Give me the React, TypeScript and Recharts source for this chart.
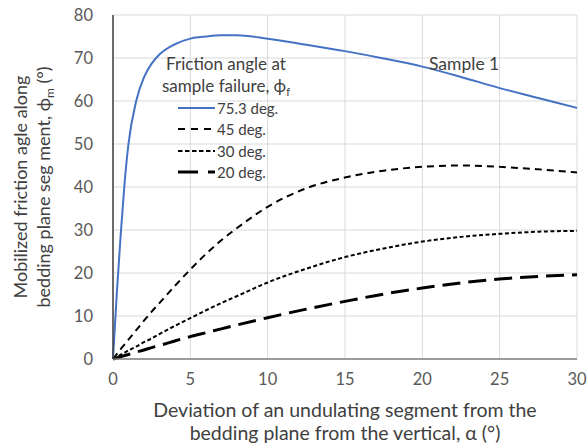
import React from "react";
import { LineChart, Line, XAxis, YAxis, CartesianGrid, Label } from "recharts";

// deviation angle alpha (deg)
const alpha = [0, 0.25, 0.5, 0.75, 1, 1.5, 2, 2.5, 3, 4, 5, 6, 7, 8, 10, 12.5, 15, 17.5, 20, 22.5, 25, 27.5, 30];
const phi753 = [0, 15.5, 29, 41, 50, 60, 65.5, 68.7, 70.8, 73.2, 74.5, 75, 75.3, 75.3, 74.5, 73.1, 71.6, 69.9, 68, 65.6, 63, 60.7, 58.4];
const phi45 = [0, 1.15, 2.3, 3.4, 4.5, 6.7, 8.9, 11, 13, 17, 20.8, 24.4, 27.6, 30.4, 35.4, 39.7, 42.2, 43.8, 44.7, 45, 44.7, 44.1, 43.4];
const phi30 = [0, 0.5, 1, 1.5, 2, 2.9, 3.9, 4.8, 5.8, 7.7, 9.5, 11.3, 13, 14.6, 17.8, 21, 23.7, 25.7, 27.3, 28.4, 29.1, 29.6, 29.8];
const phi20 = [0, 0.27, 0.53, 0.8, 1.06, 1.6, 2.1, 2.65, 3.15, 4.2, 5.2, 6.1, 7, 7.9, 9.6, 11.6, 13.4, 15.1, 16.5, 17.7, 18.6, 19.2, 19.6];

const xTicks = [0, 5, 10, 15, 20, 25, 30];
const yTicks = [0, 10, 20, 30, 40, 50, 60, 70, 80];

const legendItems = [
  { label: "75.3 deg.", color: "#4472C4", dash: "", width: 2 },
  { label: "45 deg.", color: "#000", dash: "7 6", width: 2 },
  { label: "30 deg.", color: "#000", dash: "4.5 2.5", width: 2 },
  { label: "20 deg.", color: "#000", dash: "20 10", width: 3 },
];

const data = alpha.map((a, i) => ({
  a,
  s753: phi753[i],
  s45: phi45[i],
  s30: phi30[i],
  s20: phi20[i],
}));

const FONT = "Lato, 'Open Sans', sans-serif";
const TXT = "#404040";

function YTitle(props: any) {
  const { viewBox } = props;
  const cy = viewBox.y + viewBox.height / 2;
  return (
    <g fill={TXT} fontSize={18} fontFamily={FONT} textAnchor="middle">
      <text transform={`translate(27, ${cy}) rotate(-90)`}>Mobilized friction agle along</text>
      <text transform={`translate(50, ${cy}) rotate(-90)`}>
        bedding plane seg ment, ϕ<tspan fontSize={12} dy={4}>m</tspan>
        <tspan dy={-4}> (°)</tspan>
      </text>
    </g>
  );
}

function XTitle(props: any) {
  const { viewBox } = props;
  const cx = viewBox.x + viewBox.width / 2;
  return (
    <g fill={TXT} fontSize={19.5} fontFamily={FONT} textAnchor="middle">
      <text x={cx} y={417}>Deviation of an undulating segment from the</text>
      <text x={cx} y={440}>bedding plane from the vertical, α (°)</text>
    </g>
  );
}

export default function App() {
  return (
    <div style={{ position: "fixed", left: 0, top: 0, width: 587, height: 444, background: "#fff", fontFamily: FONT, overflow: "hidden" }}>
      <LineChart width={587} height={444} data={data} margin={{ top: 15, right: 10, bottom: 0, left: 0 }} style={{ overflow: "visible" }}>
        <CartesianGrid stroke="#d9d9d9" strokeWidth={1} />
        <XAxis
          dataKey="a"
          type="number"
          domain={[0, 30]}
          ticks={xTicks}
          interval={0}
          height={85}
          tickLine={false}
          tickMargin={8}
          axisLine={{ stroke: "#808080", strokeWidth: 1.5 }}
          tick={{ fill: "#595959", fontSize: 16.5, fontFamily: FONT }}
        >
          <Label content={XTitle} />
        </XAxis>
        <YAxis
          type="number"
          domain={[0, 80]}
          ticks={yTicks}
          interval={0}
          width={113}
          tickLine={false}
          tickMargin={14}
          axisLine={{ stroke: "#404040", strokeWidth: 1.5 }}
          tick={{ fill: "#595959", fontSize: 16.5, fontFamily: FONT }}
        >
          <Label content={YTitle} />
        </YAxis>
        <XAxis xAxisId="top" orientation="top" type="number" domain={[0, 30]} height={0} tick={false} tickLine={false} axisLine={{ stroke: "#595959", strokeWidth: 1.5 }} />
        <YAxis yAxisId="right" orientation="right" type="number" domain={[0, 80]} width={0} tick={false} tickLine={false} axisLine={{ stroke: "#000", strokeWidth: 2 }} />
        <Line type="monotone" dataKey="s753" stroke="#4472C4" strokeWidth={2} dot={false} isAnimationActive={false} />
        <Line type="monotone" dataKey="s45" stroke="#000" strokeWidth={2} strokeDasharray="7 5" dot={false} isAnimationActive={false} />
        <Line type="monotone" dataKey="s30" stroke="#000" strokeWidth={2} strokeDasharray="4 2.5" dot={false} isAnimationActive={false} />
        <Line type="monotone" dataKey="s20" stroke="#000" strokeWidth={3} strokeDasharray="18 8" dot={false} isAnimationActive={false} />
      </LineChart>

      {/* legend inside plot */}
      <div style={{ position: "absolute", left: 158, top: 53, color: TXT, fontSize: 17, lineHeight: "22px" }}>
        <div style={{ textAlign: "center", width: 136, height: 22 }}>Friction angle at</div>
        <div style={{ textAlign: "center", width: 136, height: 22 }}>
          sample failure, ϕ<span style={{ fontSize: 11, position: "relative", top: 4, lineHeight: 0 }}>f</span>
        </div>
        {legendItems.map((it) => (
          <div key={it.label} style={{ display: "flex", alignItems: "center", height: 21.5, marginLeft: 20 }}>
            <svg width={39} height={6}>
              <line x1={0} y1={3} x2={37} y2={3} stroke={it.color} strokeWidth={it.width} strokeDasharray={it.dash} />
            </svg>
            <span style={{ fontSize: 15 }}>{it.label}</span>
          </div>
        ))}
      </div>

      <div style={{ position: "absolute", left: 429, top: 53, color: TXT, fontSize: 17.5 }}>Sample 1</div>
    </div>
  );
}
